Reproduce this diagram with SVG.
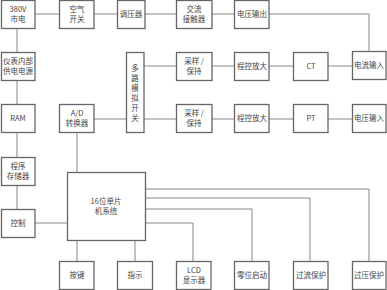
<svg xmlns="http://www.w3.org/2000/svg" width="387" height="290" viewBox="0 0 387 290">
<style>
.b{fill:#fff;stroke:#666;stroke-width:1.3}
.t{font-family:"Noto Sans CJK SC","Liberation Sans",sans-serif;font-size:7.5px;fill:#444;text-anchor:middle}
.c{fill:none;stroke:#888;stroke-width:1}
</style>
<rect width="387" height="290" fill="#fff"/>
<g id="connectors">
<path class="c" d="M17 28V209M35 14H59M94 14H117M145 14H176M212 14H234M269 14H369V51"/>
<path class="c" d="M144 66H176M269 66H293M328 66H352M212 66H234"/>
<path class="c" d="M94 119H126M144 119H176M212 119H234M269 119H293M328 119H352"/>
<path class="c" d="M77 132V172M35 223H67"/>
<path class="c" d="M145 189H369V261M145 198H310V261M145 209H252V261M145 223H193V261M77 240V261M135 240V261"/>
</g>
<g id="n380"><rect class="b" x="1.5" y="0.5" width="33.5" height="28"/><text class="t" x="18" y="12">380V</text><text class="t" x="18" y="22">市电</text></g>
<g id="kqkg"><rect class="b" x="59.5" y="0.5" width="34.5" height="28"/><text class="t" x="77" y="12">空气</text><text class="t" x="77" y="22">开关</text></g>
<g id="tyq"><rect class="b" x="117.5" y="0.5" width="27.5" height="28"/><text class="t" x="131" y="17">调压器</text></g>
<g id="jljcq"><rect class="b" x="176.5" y="0.5" width="35.5" height="28"/><text class="t" x="194" y="12">交流</text><text class="t" x="194" y="22">接触器</text></g>
<g id="dysc"><rect class="b" x="234.5" y="0.5" width="34.5" height="28"/><text class="t" x="252" y="17">电压输出</text></g>
<g id="ybnb"><rect class="b" x="1.5" y="52.5" width="33.5" height="28"/><text class="t" x="18" y="64">仪表内部</text><text class="t" x="18" y="74">供电电源</text></g>
<g id="dlmn"><rect class="b" x="126.5" y="52.5" width="17.5" height="80"/><text class="t" x="135" y="71">多</text><text class="t" x="135" y="81">路</text><text class="t" x="135" y="91">模</text><text class="t" x="135" y="101">拟</text><text class="t" x="135" y="111">开</text><text class="t" x="135" y="121">关</text></g>
<g id="cyb1"><rect class="b" x="176.5" y="52.5" width="35.5" height="28"/><text class="t" x="194" y="64">采样 /</text><text class="t" x="194" y="74">保持</text></g>
<g id="ckfd1"><rect class="b" x="234.5" y="52.5" width="34.5" height="28"/><text class="t" x="252" y="69">程控放大</text></g>
<g id="ct"><rect class="b" x="293.5" y="52.5" width="34.5" height="28"/><text class="t" x="311" y="69">CT</text></g>
<g id="dlsr"><rect class="b" x="352.5" y="51.5" width="33.5" height="28"/><text class="t" x="369" y="68">电流输入</text></g>
<g id="ram"><rect class="b" x="1.5" y="104.5" width="33.5" height="28"/><text class="t" x="18" y="121">RAM</text></g>
<g id="ad"><rect class="b" x="59.5" y="104.5" width="34.5" height="28"/><text class="t" x="77" y="116">A/D</text><text class="t" x="77" y="126">转换器</text></g>
<g id="cyb2"><rect class="b" x="176.5" y="104.5" width="35.5" height="28"/><text class="t" x="194" y="116">采样 /</text><text class="t" x="194" y="126">保持</text></g>
<g id="ckfd2"><rect class="b" x="234.5" y="104.5" width="34.5" height="28"/><text class="t" x="252" y="121">程控放大</text></g>
<g id="pt"><rect class="b" x="293.5" y="104.5" width="34.5" height="28"/><text class="t" x="311" y="121">PT</text></g>
<g id="dysr"><rect class="b" x="352.5" y="104.5" width="33.5" height="28"/><text class="t" x="369" y="121">电压输入</text></g>
<g id="cxccq"><rect class="b" x="1.5" y="157.5" width="33.5" height="28"/><text class="t" x="18" y="169">程序</text><text class="t" x="18" y="179">存储器</text></g>
<g id="mcu"><rect class="b" x="67.5" y="172.5" width="78" height="68"/><text class="t" x="106" y="204">16位单片</text><text class="t" x="106" y="214">机系统</text></g>
<g id="kz"><rect class="b" x="1.5" y="209.5" width="33.5" height="28"/><text class="t" x="18" y="226">控制</text></g>
<g id="aj"><rect class="b" x="59.5" y="261.5" width="34.5" height="28"/><text class="t" x="77" y="278">按键</text></g>
<g id="zs"><rect class="b" x="117.5" y="261.5" width="35" height="28"/><text class="t" x="135" y="278">指示</text></g>
<g id="lcd"><rect class="b" x="176.5" y="261.5" width="34.5" height="28"/><text class="t" x="194" y="273">LCD</text><text class="t" x="194" y="283">显示器</text></g>
<g id="zwqd"><rect class="b" x="234.5" y="261.5" width="34.5" height="28"/><text class="t" x="252" y="278">零位启动</text></g>
<g id="glbh"><rect class="b" x="293.5" y="261.5" width="34.5" height="28"/><text class="t" x="311" y="278">过流保护</text></g>
<g id="gybh"><rect class="b" x="352.5" y="261.5" width="33.5" height="28"/><text class="t" x="369" y="278">过压保护</text></g>
</svg>
